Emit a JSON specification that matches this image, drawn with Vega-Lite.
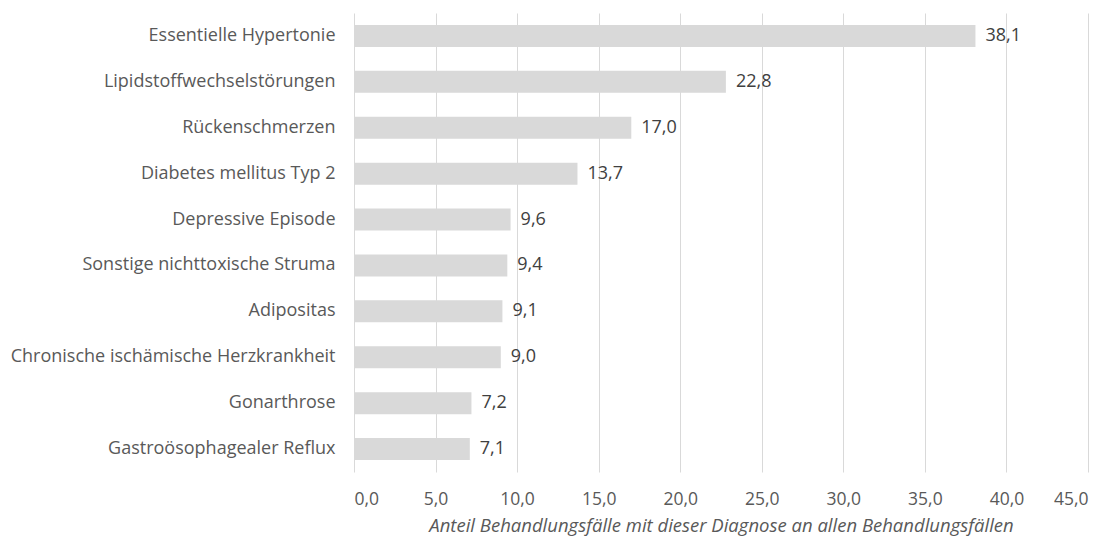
{
  "$schema": "https://vega.github.io/schema/vega-lite/v6.json",
  "width": 734,
  "height": 459,
  "autosize": {"type": "none"},
  "padding": {"left": 354, "top": 13, "right": 28, "bottom": 67},
  "background": "white",
  "config": {
    "locale": {"number": {"decimal": ",", "thousands": ".", "grouping": [3], "currency": ["", " €"]}},
    "view": {"stroke": null},
    "font": "Open Sans"
  },
  "data": {
    "values": [
      {"diagnose": "Essentielle Hypertonie", "anteil": 38.1},
      {"diagnose": "Lipidstoffwechselstörungen", "anteil": 22.8},
      {"diagnose": "Rückenschmerzen", "anteil": 17.0},
      {"diagnose": "Diabetes mellitus Typ 2", "anteil": 13.7},
      {"diagnose": "Depressive Episode", "anteil": 9.6},
      {"diagnose": "Sonstige nichttoxische Struma", "anteil": 9.4},
      {"diagnose": "Adipositas", "anteil": 9.1},
      {"diagnose": "Chronische ischämische Herzkrankheit", "anteil": 9.0},
      {"diagnose": "Gonarthrose", "anteil": 7.2},
      {"diagnose": "Gastroösophagealer Reflux", "anteil": 7.1}
    ]
  },
  "encoding": {
    "y": {
      "field": "diagnose",
      "type": "nominal",
      "sort": null,
      "scale": {"paddingInner": 0.52, "paddingOuter": 0.26},
      "axis": {
        "title": null,
        "domain": false,
        "ticks": false,
        "labelFontSize": 18,
        "labelColor": "#595959",
        "labelPadding": 19,
        "labelLimit": 400
      }
    },
    "x": {
      "field": "anteil",
      "type": "quantitative",
      "scale": {"domain": [0, 45], "nice": false},
      "axis": {
        "values": [0, 5, 10, 15, 20, 25, 30, 35, 40, 45],
        "format": ".1f",
        "domain": false,
        "ticks": false,
        "grid": true,
        "gridColor": "#d9d9d9",
        "gridWidth": 1,
        "labelFontSize": 17.5,
        "labelColor": "#595959",
        "labelPadding": 18,
        "title": "Anteil Behandlungsfälle mit dieser Diagnose an allen Behandlungsfällen",
        "titleFontSize": 18.5,
        "titleFontStyle": "italic",
        "titleFontWeight": "normal",
        "titleColor": "#595959",
        "titlePadding": 9
      }
    }
  },
  "layer": [
    {"mark": {"type": "bar", "color": "#d9d9d9"}},
    {
      "mark": {"type": "text", "align": "left", "baseline": "middle", "dx": 10, "fontSize": 18, "color": "#404040"},
      "encoding": {"text": {"field": "anteil", "type": "quantitative", "format": ".1f"}}
    }
  ]
}
